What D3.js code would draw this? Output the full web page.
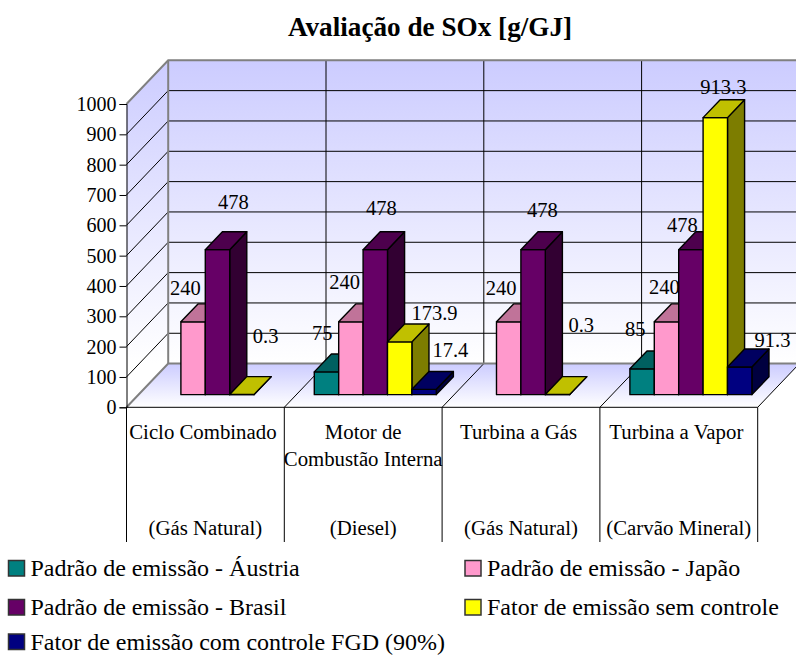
<!DOCTYPE html>
<html>
<head>
<meta charset="utf-8">
<script src="https://cdn.jsdelivr.net/npm/d3@7"></script>
<style>
  body { margin: 0; background: #fff; }
  text { font-family: "Liberation Serif", "Times New Roman", serif; fill: #000; }
</style>
</head>
<body>
<div id="chart"></div>
<script>
// Chart data
const categories = ['Ciclo Combinado', 'Motor de Combustão Interna', 'Turbina a Gás', 'Turbina a Vapor'];
const categoryFuels = ['(Gás Natural)', '(Diesel)', '(Gás Natural)', '(Carvão Mineral)'];
const seriesNames = [
  'Padrão de emissão - Áustria',
  'Padrão de emissão - Japão',
  'Padrão de emissão - Brasil',
  'Fator de emissão sem controle',
  'Fator de emissão com controle FGD (90%)',
];
const austria = [null, 75, null, 85];
const japao = [240, 240, 240, 240];
const brasil = [478, 478, 478, 478];
const semControle = [0.3, 173.9, 0.3, 913.3];
const comControle = [null, 17.4, null, 91.3];
const seriesColors = ['#008080', '#ff99cc', '#660066', '#ffff00', '#000080'];
const yTicks = [0, 100, 200, 300, 400, 500, 600, 700, 800, 900, 1000];

// Label nudges from the top of each bar, same order as the series
const labelNudges = [
  [null, [-16.5, -17.7], [7, -31.6], [15, -42.7], null],
  [[-13, -22.7], [-15, -23.7], [-2.7, -25.6], [26, -12.8], [17.5, -23]],
  [null, [-16.4, -17.7], [0.5, -23.6], [15, -53.4], null],
  [[-15.5, -23.7], [-11, -18.7], [-17.3, -8.6], [-0.7, -14.7], [24, -10.8]],
];

const width = 796;
const height = 655;
const depthX = 41.7;
const depthY = 43.7;
const barWidth = 24.4;
const barDepthStart = 0.29;
const barDepthEnd = 0.70;
const labelBottom = 542;

const allSeries = [austria, japao, brasil, semControle, comControle];

const svg = d3.select('#chart').append('svg')
  .attr('width', width)
  .attr('height', height)
  .style('display', 'block');

const x = d3.scaleBand().domain(d3.range(categories.length)).range([126.5, 757.7]);
const y = d3.scaleLinear().domain([0, 1000]).range([407.3, 104]);

// front plane -> projected point at a given depth (0 front, 1 back)
const px = (vx, depth) => vx + depth * depthX;
const py = (value, depth) => y(value) - depth * depthY;
const poly = pts => pts.map(p => p.join(',')).join(' ');

const defs = svg.append('defs');
function addGradient(id, y1, y2) {
  const g = defs.append('linearGradient')
    .attr('id', id)
    .attr('gradientUnits', 'userSpaceOnUse')
    .attr('x1', 0).attr('x2', 0)
    .attr('y1', y1).attr('y2', y2);
  g.append('stop').attr('offset', 0).attr('stop-color', '#ccccff');
  g.append('stop').attr('offset', 1).attr('stop-color', '#ffffff');
}
addGradient('wallFill', py(1000, 1), py(0, 1));
addGradient('floorFill', py(0, 1), py(0, 0));

const x0 = x.range()[0];
const x1 = x.range()[1];

// Walls and floor
svg.append('polygon')
  .attr('points', poly([[px(x0, 1), py(1000, 1)], [px(x1, 1), py(1000, 1)], [px(x1, 1), py(0, 1)], [px(x0, 1), py(0, 1)]]))
  .attr('fill', 'url(#wallFill)');
svg.append('polygon')
  .attr('points', poly([[px(x0, 0), py(1000, 0)], [px(x0, 1), py(1000, 1)], [px(x0, 1), py(0, 1)], [px(x0, 0), py(0, 0)]]))
  .attr('fill', 'url(#wallFill)');
svg.append('polygon')
  .attr('points', poly([[px(x0, 0), py(0, 0)], [px(x0, 1), py(0, 1)], [px(x1, 1), py(0, 1)], [px(x1, 0), py(0, 0)]]))
  .attr('fill', 'url(#floorFill)');

// Grid
const grid = svg.append('g').attr('fill', 'none').attr('stroke', '#000').attr('stroke-width', 1);
yTicks.slice(1, -1).forEach((t) => {
  grid.append('path').attr('d', d3.line()([[px(x0, 0), py(t, 0)], [px(x0, 1), py(t, 1)], [px(x1, 1), py(t, 1)]]));
});
d3.range(1, categories.length + 1).forEach((i) => {
  const vx = x0 + i * x.step();
  grid.append('path').attr('d', d3.line()([[px(vx, 0), py(0, 0)], [px(vx, 1), py(0, 1)]]));
  if (i < categories.length) {
    grid.append('path').attr('d', d3.line()([[px(vx, 1), py(0, 1)], [px(vx, 1), py(1000, 1)]]));
  }
});

// Wall outline
const outline = svg.append('g').attr('fill', 'none').attr('stroke', '#808080').attr('stroke-width', 2);
outline.append('path')
  .attr('d', d3.line()([[px(x0, 0), py(1000, 0)], [px(x0, 1), py(1000, 1)], [px(x1, 1), py(1000, 1)]]));
outline.append('path')
  .attr('d', d3.line()([[px(x0, 0), py(0, 0)], [px(x0, 1), py(0, 1)], [px(x1, 1), py(0, 1)]]));
outline.append('path')
  .attr('d', d3.line()([[px(x0, 1), py(0, 1)], [px(x0, 1), py(1000, 1)]]));

// Bars
const barsLeft = (x.step() - barWidth * seriesNames.length) / 2;
function barLeft(c, s) {
  return x(c) + barsLeft + s * barWidth;
}

const bars = svg.append('g').attr('stroke', '#000').attr('stroke-width', 1.4).attr('stroke-linejoin', 'round');
categories.forEach((cat, c) => {
  allSeries.forEach((values, s) => {
    const v = values[c];
    if (v === null) return;
    const l = barLeft(c, s);
    const r = l + barWidth;
    const base = seriesColors[s];
    const a = barDepthStart;
    const b = barDepthEnd;
    // side, front, top
    bars.append('polygon')
      .attr('points', poly([[px(r, a), py(v, a)], [px(r, b), py(v, b)], [px(r, b), py(0, b)], [px(r, a), py(0, a)]]))
      .attr('fill', d3.rgb(base).darker(2).formatHex());
    bars.append('polygon')
      .attr('points', poly([[px(l, a), py(v, a)], [px(r, a), py(v, a)], [px(r, a), py(0, a)], [px(l, a), py(0, a)]]))
      .attr('fill', base);
    bars.append('polygon')
      .attr('points', poly([[px(l, a), py(v, a)], [px(l, b), py(v, b)], [px(r, b), py(v, b)], [px(r, a), py(v, a)]]))
      .attr('fill', d3.rgb(base).darker(0.8).formatHex());
  });
});

// Data labels
categories.forEach((cat, c) => {
  allSeries.forEach((values, s) => {
    const v = values[c];
    if (v === null) return;
    const nudge = labelNudges[c][s];
    svg.append('text')
      .attr('x', px(barLeft(c, s) + barWidth / 2, 0.5) + nudge[0])
      .attr('y', py(v, 0.5) + nudge[1])
      .attr('text-anchor', 'middle')
      .attr('font-size', 20.5)
      .text(v);
  });
});

// Y axis
const yAxis = d3.axisLeft(y).tickValues(yTicks).tickSize(7).tickPadding(3).tickFormat(d3.format('d'));
const yG = svg.append('g').attr('transform', `translate(${x0}, 0)`).call(yAxis);
yG.selectAll('text').attr('font-size', 20).attr('font-family', '"Liberation Serif"');
yG.selectAll('path, line').attr('stroke', '#000');

// Category rows below the floor
const below = svg.append('g').attr('stroke', '#000').attr('stroke-width', 1);
below.append('line').attr('x1', x0).attr('x2', x1).attr('y1', y(0)).attr('y2', y(0));
d3.range(categories.length + 1).forEach((i) => {
  const vx = x0 + i * x.step();
  below.append('line').attr('x1', vx).attr('x2', vx).attr('y1', y(0)).attr('y2', labelBottom);
});

categories.forEach((cat, c) => {
  const cx = x(c) + x.bandwidth() / 2;
  const lines = cat === 'Motor de Combustão Interna' ? ['Motor de', 'Combustão Interna'] : [cat];
  const shift = lines.length === 1 ? -2.5 : 0; // single line names sit a bit left of centre
  lines.forEach((line, i) => {
    svg.append('text')
      .attr('x', cx + shift).attr('y', 439 + i * 27)
      .attr('text-anchor', 'middle')
      .attr('font-size', 20.8)
      .text(line);
  });
  svg.append('text')
    .attr('x', cx).attr('y', 534.5)
    .attr('text-anchor', 'middle')
    .attr('font-size', 20.8)
    .text(categoryFuels[c]);
});

// Title
svg.append('text')
  .attr('x', 430).attr('y', 36)
  .attr('text-anchor', 'middle')
  .attr('font-size', 27.2)
  .attr('font-weight', 'bold')
  .text('Avaliação de SOx [g/GJ]');

// Legend
const legendCols = [8.5, 465];
const legendRows = [576, 615, 649.5];
seriesNames.forEach((name, i) => {
  const lx = legendCols[i % 2];
  const ly = legendRows[Math.floor(i / 2)];
  svg.append('rect')
    .attr('x', lx).attr('y', ly - 15.5)
    .attr('width', 16).attr('height', 15.5)
    .attr('fill', seriesColors[i])
    .attr('stroke', '#333').attr('stroke-width', 1.5);
  svg.append('text')
    .attr('x', lx + 22).attr('y', ly)
    .attr('font-size', 24)
    .text(name);
});
</script>
</body>
</html>
